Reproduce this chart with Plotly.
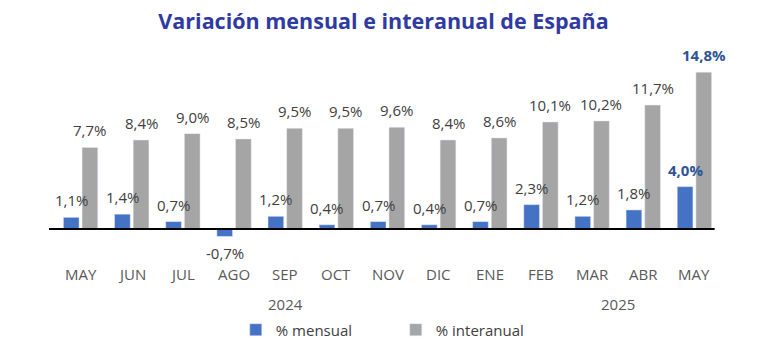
import plotly.graph_objects as go

months = ["MAY", "JUN", "JUL", "AGO", "SEP", "OCT", "NOV", "DIC", "ENE", "FEB", "MAR", "ABR", "MAY"]
mensual = [1.1, 1.4, 0.7, -0.7, 1.2, 0.4, 0.7, 0.4, 0.7, 2.3, 1.2, 1.8, 4.0]
interanual = [7.7, 8.4, 9.0, 8.5, 9.5, 9.5, 9.6, 8.4, 8.6, 10.1, 10.2, 11.7, 14.8]
years = ["2024", "2025"]
year_pos = [4.0, 10.5]

BLUE = "#4472C4"
GRAY = "#A5A5A5"
HILITE = "#2F5496"
TXT = "#404040"
FONT = "Open Sans"

x = list(range(len(months)))

def fmt(v):
    return f"{v:.1f}".replace(".", ",") + "%"

fig = go.Figure()
fig.add_trace(go.Bar(x=x, y=mensual, name="% mensual", marker_color=BLUE,
                     width=0.307, offset=-0.336, hoverinfo="skip"))
fig.add_trace(go.Bar(x=x, y=interanual, name="% interanual", marker_color=GRAY,
                     width=0.307, offset=0.029, hoverinfo="skip"))

ann = []
last = len(months) - 1
for i, (m, v) in enumerate(zip(mensual, interanual)):
    hl = i == last
    ann.append(dict(x=i - 0.183, y=m, xref="x", yref="y", text=(f"<b>{fmt(m)}</b>" if hl else fmt(m)),
                    showarrow=False, yanchor="middle", yshift=(17 if m >= 0 else -17),
                    font=dict(family=FONT, size=15, color=HILITE if hl else TXT)))
    ann.append(dict(x=i + 0.183, y=v, xref="x", yref="y", text=(f"<b>{fmt(v)}</b>" if hl else fmt(v)),
                    showarrow=False, yanchor="middle", yshift=17,
                    font=dict(family=FONT, size=15, color=HILITE if hl else TXT)))
for i, mname in enumerate(months):
    ann.append(dict(x=i, y=-0.124, xref="x", yref="paper", text=mname, showarrow=False,
                    yanchor="middle", font=dict(family=FONT, size=15, color="#595959")))
for yl, yp in zip(years, year_pos):
    ann.append(dict(x=yp, y=-0.277, xref="x", yref="paper", text=yl, showarrow=False,
                    yanchor="middle", font=dict(family=FONT, size=15, color="#595959")))

fig.update_layout(
    width=767, height=358,
    margin=dict(l=55, r=47, t=55, b=108),
    paper_bgcolor="white", plot_bgcolor="white",
    barmode="overlay",
    title=dict(text="<b>Variación mensual e interanual de España</b>", x=0.5, xanchor="center",
               y=1 - 21 / 358, yanchor="middle", yref="container",
               font=dict(family=FONT, size=21.5, color="#2F3AA3")),
    xaxis=dict(range=[-0.5, len(months) - 0.5], showticklabels=False, showgrid=False,
               zeroline=False, showline=False, ticks=""),
    yaxis=dict(range=[-1.98, 16.42], visible=False, showgrid=False, zeroline=False),
    showlegend=True,
    legend=dict(orientation="h", x=0.516, xanchor="center", xref="container",
                y=1 - 330 / 358, yanchor="middle", yref="container",
                font=dict(family=FONT, size=15, color=TXT), entrywidth=115, entrywidthmode="pixels",
                traceorder="normal"),
    annotations=ann,
    shapes=[dict(type="line", xref="paper", yref="y", x0=-0.009, x1=0.992, y0=0, y1=0,
                 line=dict(color="black", width=2))],
)

fig.write_html("out.html", config={"displayModeBar": False},
               post_script="document.body.style.margin='0';document.body.style.overflow='hidden';")
